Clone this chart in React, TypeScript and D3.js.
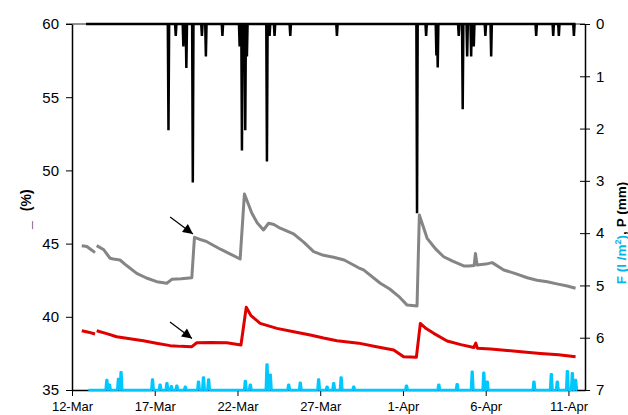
import React, { useEffect, useRef } from "react";
import * as d3 from "d3";

// x values are days since 12-Mar
const dateTicks = [0, 5, 10, 15, 20, 25, 30];
const dateLabels = ["12-Mar", "17-Mar", "22-Mar", "27-Mar", "1-Apr", "6-Apr", "11-Apr"];
const leftTicks = [35, 40, 45, 50, 55, 60];
const rightTicks = [0, 1, 2, 3, 4, 5, 6, 7];

// soil moisture, upper sensor (grey) - null = gap
const greyDays = [0.59, 0.9, 1.2, 1.39, 1.44, 1.49, 1.9, 2.3, 2.5, 2.9, 3.3, 3.91, 4.5, 5.12, 5.73, 6.03, 6.6, 7.24, 7.4, 7.7, 8.15, 9.0, 10.16, 10.42, 10.87, 11.2, 11.57, 11.88, 12.2, 12.58, 13.39, 14.0, 14.6, 15.2, 15.81, 16.45, 17.32, 17.62, 18.63, 19.2, 19.74, 20.25, 20.85, 20.99, 21.46, 22.0, 22.46, 23.0, 23.67, 23.97, 24.3, 24.38, 24.48, 25.0, 25.39, 26.09, 26.8, 27.51, 28.1, 28.72, 29.3, 29.93, 30.43];
const greyVals = [44.86, 44.8, 44.55, 44.38, null, 44.86, 44.6, 44.0, 43.95, 43.88, 43.5, 42.97, 42.65, 42.4, 42.29, 42.56, 42.6, 42.67, 45.43, 45.3, 45.13, 44.6, 43.95, 48.39, 47.07, 46.4, 45.93, 46.39, 46.3, 46.05, 45.66, 45.1, 44.45, 44.2, 44.07, 43.88, 43.35, 43.2, 42.29, 41.9, 41.4, 40.8, 40.74, 46.95, 45.36, 44.6, 44.1, 43.8, 43.47, 43.47, 43.5, 44.33, 43.54, 43.6, 43.7, 43.2, 42.95, 42.67, 42.5, 42.4, 42.25, 42.1, 41.95];

// soil moisture, lower sensor (red)
const redDays = [0.59, 1.0, 1.39, 1.44, 1.49, 2.1, 2.7, 3.5, 4.31, 5.1, 5.93, 6.6, 7.24, 7.54, 8.4, 9.36, 10.21, 10.53, 10.8, 11.37, 12.38, 13.4, 14.4, 15.2, 16.01, 17.32, 18.4, 19.44, 20.04, 20.81, 21.05, 21.4, 21.86, 22.67, 23.5, 24.28, 24.4, 24.5, 25.3, 26.3, 27.3, 28.31, 29.4, 30.43];
const redVals = [39.05, 38.95, 38.83, null, 39.05, 38.85, 38.64, 38.5, 38.37, 38.2, 38.03, 37.98, 37.96, 38.23, 38.25, 38.23, 38.07, 40.65, 40.1, 39.55, 39.21, 38.98, 38.76, 38.55, 38.37, 38.2, 37.95, 37.73, 37.27, 37.23, 39.55, 39.2, 38.87, 38.35, 38.1, 37.9, 38.2, 37.85, 37.8, 37.7, 37.6, 37.5, 37.4, 37.27];

// precipitation P (mm), hanging from the top
const rainDays = [5.83, 6.27, 6.73, 6.91, 7.3, 7.85, 8.09, 9.09, 10.13, 10.27, 10.47, 10.57, 11.78, 11.94, 12.24, 13.19, 16.01, 20.85, 21.4, 22.02, 22.1, 23.37, 23.61, 23.88, 24.12, 24.28, 24.98, 25.33, 28.05, 29.08, 29.42, 30.33];
const rainMm = [2.03, 0.23, 0.43, 0.84, 3.03, 0.23, 0.62, 0.23, 0.43, 2.42, 2.03, 0.62, 2.63, 0.23, 0.23, 0.23, 0.23, 3.62, 0.23, 0.6, 0.83, 0.23, 1.63, 0.62, 0.62, 0.43, 0.23, 0.62, 0.23, 0.23, 0.23, 0.23];
const rainStart = 0.85;
const rainEnd = 30.43;

// flow F (l/m2), from the bottom
const flowDays = [2.1, 2.26, 2.8, 2.96, 4.86, 5.32, 5.73, 6.0, 6.33, 6.84, 7.64, 7.94, 8.25, 10.47, 10.77, 11.78, 11.98, 13.09, 13.79, 14.9, 15.41, 15.81, 16.26, 17.02, 20.21, 22.16, 23.27, 24.18, 24.88, 25.09, 27.91, 28.96, 29.32, 29.93, 30.23, 30.43];
const flowVals = [0.19, 0.1, 0.21, 0.34, 0.2, 0.1, 0.13, 0.07, 0.08, 0.06, 0.16, 0.24, 0.2, 0.17, 0.1, 0.49, 0.29, 0.1, 0.14, 0.2, 0.06, 0.13, 0.24, 0.06, 0.08, 0.1, 0.11, 0.35, 0.33, 0.16, 0.16, 0.3, 0.16, 0.36, 0.32, 0.19];
const flowStart = 0.99;
const flowEnd = 30.53;

// arrows: [tailDay, tailVal, tipDay, tipVal]
const arrows = [
  [5.93, 46.81, 7.31, 45.66],
  [5.92, 39.65, 7.25, 38.52],
];

const W = 628;
const H = 415;
const FONT = "'Liberation Sans', Arial, sans-serif";

const App = () => {
  const svgRef = useRef<SVGSVGElement>(null);

  useEffect(() => {
    const svg = d3.select(svgRef.current);
    svg.selectAll("*").remove();

    const x = d3.scaleLinear().domain([0, 31]).range([72, 585]);
    const yL = d3.scaleLinear().domain([35, 60]).range([390, 24]);
    const yR = d3.scaleLinear().domain([0, 7]).range([24, 390]);

    // top thin line
    svg.append("line")
      .attr("x1", 66).attr("x2", 585)
      .attr("y1", yL(60)).attr("y2", yL(60))
      .attr("stroke", "#222").attr("stroke-width", 1);

    // left axis
    const gl = svg.append("g")
      .attr("transform", "translate(72,0)")
      .call(d3.axisLeft(yL).tickValues(leftTicks).tickSize(6).tickPadding(7).tickSizeOuter(0));
    gl.select(".domain").attr("stroke", "#000").attr("stroke-width", 1.5);
    gl.selectAll(".tick line").attr("stroke", "#000");
    gl.selectAll("text").style("font-family", FONT).style("font-size", "15px").attr("fill", "#000");

    // right axis
    const gr = svg.append("g")
      .attr("transform", "translate(585,0)")
      .call(
        d3.axisRight(yR)
          .tickValues(rightTicks)
          .tickFormat(d3.format("d"))
          .tickSize(5)
          .tickPadding(6)
          .tickSizeOuter(0)
      );
    gr.select(".domain").attr("stroke", "#000").attr("stroke-width", 1.5);
    gr.selectAll(".tick line").attr("x1", -5).attr("stroke", "#000");
    gr.selectAll("text").style("font-family", FONT).style("font-size", "15px").attr("fill", "#000");

    // bottom axis
    const gb = svg.append("g")
      .attr("transform", "translate(0,390)")
      .call(
        d3.axisBottom(x)
          .tickValues(dateTicks)
          .tickFormat((d, i) => dateLabels[i])
          .tickSize(6)
          .tickPadding(6)
          .tickSizeOuter(0)
      );
    gb.select(".domain").attr("stroke", "#000").attr("stroke-width", 1.5);
    gb.selectAll(".tick line").attr("stroke", "#000");
    gb.selectAll("text").style("font-family", FONT).style("font-size", "13px").attr("fill", "#000");

    // flow F (drawn over the bottom axis line)
    const fPts: [number, number][] = [[flowStart, 0]];
    flowDays.forEach((d, i) => {
      fPts.push([d - 0.07, 0], [d - 0.02, flowVals[i]], [d + 0.03, flowVals[i]], [d + 0.08, 0]);
    });
    fPts.push([flowEnd, 0]);
    svg.append("path")
      .datum(fPts)
      .attr("fill", "none")
      .attr("stroke", "#00c8ff")
      .attr("stroke-width", 2.5)
      .attr("stroke-linejoin", "round")
      .attr("d", d3.line<[number, number]>().x((d) => x(d[0])).y((d) => yR(7 - d[1])));

    // soil moisture lines
    const mLine = d3.line<[number, number | null]>()
      .defined((d) => d[1] !== null)
      .x((d) => x(d[0]))
      .y((d) => yL(d[1] as number));

    svg.append("path")
      .datum(greyDays.map((d, i) => [d, greyVals[i]] as [number, number | null]))
      .attr("fill", "none")
      .attr("stroke", "#858585")
      .attr("stroke-width", 3)
      .attr("stroke-linejoin", "round")
      .attr("d", mLine);

    svg.append("path")
      .datum(redDays.map((d, i) => [d, redVals[i]] as [number, number | null]))
      .attr("fill", "none")
      .attr("stroke", "#e00000")
      .attr("stroke-width", 3)
      .attr("stroke-linejoin", "round")
      .attr("d", mLine);

    // precipitation P
    const pPts: [number, number][] = [[rainStart, 0]];
    rainDays.forEach((d, i) => {
      pPts.push([d - 0.04, 0], [d, rainMm[i]], [d + 0.04, 0]);
    });
    pPts.push([rainEnd, 0]);
    pPts.sort((a, b) => a[0] - b[0]);
    svg.append("path")
      .datum(pPts)
      .attr("fill", "none")
      .attr("stroke", "#000")
      .attr("stroke-width", 2.5)
      .attr("d", d3.line<[number, number]>().x((d) => x(d[0])).y((d) => yR(d[1])));

    // arrows
    const defs = svg.append("defs");
    defs.append("marker")
      .attr("id", "ah")
      .attr("viewBox", "0 0 10 10")
      .attr("refX", 10).attr("refY", 5)
      .attr("markerWidth", 12).attr("markerHeight", 10)
      .attr("markerUnits", "userSpaceOnUse")
      .attr("orient", "auto")
      .append("path").attr("d", "M0,0 L10,5 L0,10 Z").attr("fill", "#000");
    arrows.forEach((a) => {
      svg.append("line")
        .attr("x1", x(a[0])).attr("y1", yL(a[1]))
        .attr("x2", x(a[2])).attr("y2", yL(a[3]))
        .attr("stroke", "#000").attr("stroke-width", 1.2)
        .attr("marker-end", "url(#ah)");
    });

    // left title
    const lt = svg.append("text")
      .attr("transform", "translate(31,229) rotate(-90)")
      .style("font-family", FONT).style("font-size", "14px").style("font-weight", "bold")
      .attr("fill", "#000");
    lt.append("tspan").text("_");
    lt.append("tspan").attr("dx", 10).text("(%)");

    // right title
    const rt = svg.append("text")
      .attr("transform", "translate(626,233) rotate(-90)")
      .attr("text-anchor", "middle")
      .style("font-family", FONT).style("font-size", "13.5px").style("font-weight", "bold");
    rt.append("tspan").attr("fill", "#00b4f0").text("F (l /m");
    rt.append("tspan").attr("fill", "#00b4f0").attr("dy", -5).style("font-size", "9px").text("2");
    rt.append("tspan").attr("fill", "#00b4f0").attr("dy", 5).text(")");
    rt.append("tspan").attr("fill", "#000").text(", P (mm)");
  }, []);

  return (
    <svg
      ref={svgRef}
      width={W}
      height={H}
      style={{ position: "absolute", left: 0, top: 0, background: "#fff" }}
    />
  );
};

export default App;
